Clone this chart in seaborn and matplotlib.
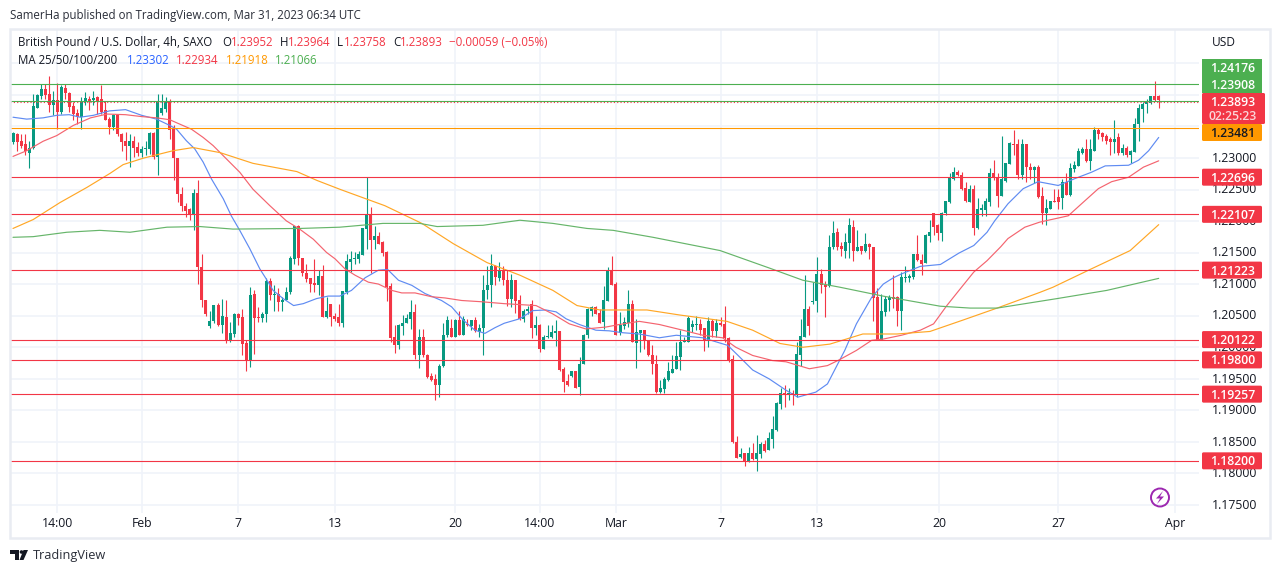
import numpy as np
import pandas as pd
import matplotlib
matplotlib.use("Agg")
import matplotlib.pyplot as plt
from matplotlib.patches import FancyBboxPatch, Rectangle, Circle, Polygon
import seaborn as sns

# OHLC values, in 1/10000 of a dollar: (open, high, low, close)
candles_jan_a = [
(12322,12339,12320,12337),(12336,12337,12309,12323),(12324,12336,12313,12317),(12320,12336,12302,12308),
(12306,12324,12281,12313),(12313,12399,12311,12379),(12377,12399,12377,12397),(12396,12415,12391,12407),
(12407,12415,12391,12397),(12398,12428,12370,12381),(12381,12404,12366,12390),(12390,12416,12344,12371),
(12371,12413,12367,12410),(12409,12415,12391,12401),(12401,12402,12370,12378),(12379,12386,12357,12367),
(12368,12375,12352,12362),(12363,12394,12344,12387),(12387,12402,12381,12392),(12391,12396,12373,12388),
(12389,12403,12381,12392),(12394,12396,12367,12388),(12391,12413,12367,12371),(12373,12388,12357,12358),
(12359,12362,12336,12346),(12346,12367,12341,12365),(12365,12367,12333,12335),(12335,12337,12308,12323),
(12324,12338,12294,12317),(12317,12336,12283,12324),(12324,12333,12299,12314),(12315,12323,12300,12306),
(12306,12317,12299,12312),(12311,12325,12302,12314),(12312,12338,12304,12337),(12337,12338,12296,12299),
(12299,12398,12271,12388),(12368,12398,12365,12376),(12375,12394,12370,12386),(12388,12391,12328,12342),
]
candles_feb_a = [
(12343,12349,12262,12297),(12298,12298,12228,12240),(12241,12252,12214,12221),(12222,12227,12204,12214),
(12216,12218,12200,12209),(12209,12248,12183,12242),(12242,12263,12098,12125),(12125,12146,12061,12072),
(12072,12073,12047,12051),(12032,12056,12029,12040),(12039,12065,12037,12065),(12065,12068,12032,12034),
(12034,12075,12021,12048),(12046,12073,12005,12010),(12009,12038,12007,12020),(12019,12053,12015,12051),
(12051,12053,12033,12045),(12046,12058,11985,12003),(12004,12010,11961,11978),(11978,12093,11966,12081),
(12083,12088,11987,12045),(12046,12061,12038,12044),(12044,12054,12038,12051),(12050,12108,12038,12103),
(12103,12108,12073,12080),(12080,12096,12055,12081),(12083,12092,12055,12069),(12069,12077,12055,12073),
(12072,12093,12072,12086),(12085,12142,12083,12139),(12137,12190,12129,12190),(12190,12191,12128,12139),
(12139,12139,12110,12115),(12116,12130,12102,12106),(12108,12108,12086,12098),(12099,12137,12085,12096),
(12096,12121,12080,12110),(12110,12128,12046,12046),(12046,12077,12044,12056),(12067,12067,12032,12046),
(12047,12052,12039,12042),
]
candles_feb_b = [
(12046,12066,12032,12037),(12037,12087,12030,12087),(12086,12145,12083,12134),(12133,12150,12117,12138),
(12137,12149,12129,12138),(12137,12151,12132,12145),(12144,12187,12144,12186),(12185,12267,12153,12208),
(12208,12220,12116,12167),(12167,12190,12153,12174),(12174,12180,12162,12162),(12165,12166,12142,12147),
(12148,12150,12071,12093),(12095,12099,12006,12012),(12014,12033,11989,12001),(12002,12035,11995,12033),
(12031,12049,12018,12037),(12036,12051,12036,12044),(12043,12072,12027,12054),(12054,12067,11979,11985),
(11985,12027,11965,12015),
]
candles_feb_c = [
(12014,12027,11982,11985),(11986,11987,11950,11951),(11952,11957,11945,11946),(11947,11956,11915,11939),
(11939,11972,11920,11969),(11968,12036,11966,12018),(12017,12048,12014,12041),(12028,12042,12014,12015),
(12015,12043,12014,12041),(12041,12055,12017,12018),(12018,12048,12017,12042),(12035,12042,12031,12033),
(12032,12041,12025,12041),(12041,12046,12022,12024),(12022,12035,12014,12029),(12029,12112,11985,12089),
(12088,12126,12075,12097),(12096,12146,12062,12126),(12126,12128,12096,12109),(12108,12133,12103,12120),
(12120,12126,12096,12104),(12105,12120,12064,12074),(12075,12114,12062,12104),(12104,12105,12052,12071),
(12072,12080,12041,12042),(12042,12059,12038,12056),(12055,12064,12050,12059),(12066,12073,12013,12028),
(12028,12047,12018,12033),(12034,12035,11990,11996),(11996,12017,11995,12015),(12014,12033,12013,12015),
(12014,12033,12013,12022),(12020,12041,12000,12023),(12023,12023,11960,11962),(11963,11966,11927,11943),
(11944,11956,11936,11938),(11952,11961,11951,11961),(11961,11961,11933,11934),(11935,11983,11922,11972),
(11971,12019,11971,12018),(12017,12060,12013,12059),(12056,12064,12048,12061),(12062,12063,12050,12051),
(12052,12059,12036,12037),(12038,12095,12027,12072),(12071,12125,12071,12121),(12121,12142,12096,12096),
]
candles_mar_a = [
(12098,12101,12017,12018),(12020,12054,12017,12033),(12031,12046,12027,12038),(12037,12088,12030,12066),
(12066,12072,12006,12006),(12005,12043,11965,12022),(12021,12026,11990,12026),(12026,12026,11996,12009),
(12009,12009,11984,11985),(11986,12001,11955,11971),(11971,11985,11926,11927),(11927,11946,11926,11933),
(11932,11951,11926,11947),(11946,11975,11945,11961),(11958,11985,11957,11963),(11963,12006,11963,11984),
(11983,12025,11962,12007),(12006,12014,12006,12009),(12007,12048,12006,12044),(12030,12041,12022,12035),
(12033,12047,12025,12035),(12035,12042,12018,12025),(12028,12029,11992,12009),(12008,12046,11998,12039),
(12039,12042,12014,12023),(12023,12043,12014,12036),(12037,12046,12032,12033),(12035,12064,12006,12012),
(12012,12014,11975,11977),
]
candles_mar_b = [
(11980,11985,11846,11848),(11848,11858,11822,11823),(11824,11838,11822,11829),(11830,11830,11810,11818),
(11818,11840,11817,11831),(11831,11847,11819,11821),(11821,11859,11803,11830),(11829,11848,11823,11845),
(11845,11852,11833,11834),(11835,11864,11835,11854),(11853,11889,11838,11868),(11867,11911,11866,11910),
(11908,11934,11901,11925),(11926,11938,11904,11923),(11923,11933,11914,11926),(11925,11931,11906,11922),
(11922,12006,11919,11987),(11986,12043,11969,12016),(12015,12112,12015,12058),(12058,12064,12017,12031),
(12070,12101,12067,12071),(12071,12141,12054,12114),(12114,12122,12084,12097),(12097,12103,12046,12094),
(12095,12175,12094,12157),(12156,12197,12154,12179),
]
candles_mar_c = [
(12180,12187,12152,12157),(12159,12164,12143,12153),(12151,12179,12140,12164),(12163,12202,12140,12191),
(12189,12199,12134,12151),(12151,12183,12151,12157),(12158,12159,12145,12151),(12151,12179,12149,12161),
(12162,12163,12137,12156),(12157,12157,12040,12076),(12077,12091,12010,12010),(12010,12083,12009,12055),
(12054,12079,12048,12074),(12072,12080,12055,12077),(12077,12113,12060,12075),(12077,12079,12031,12056),
(12056,12117,12026,12109),(12107,12126,12101,12109),(12108,12114,12101,12110),(12109,12146,12106,12146),
(12146,12175,12135,12136),(12136,12146,12112,12130),(12131,12177,12131,12175),(12174,12199,12165,12180),
(12211,12211,12175,12189),(12191,12193,12168,12179),(12179,12212,12166,12211),(12210,12229,12208,12229),
(12228,12273,12227,12266),(12264,12283,12263,12276),(12276,12278,12269,12270),(12271,12275,12247,12249),
(12250,12259,12228,12229),(12228,12254,12228,12249),(12249,12254,12176,12187),(12186,12234,12185,12216),
(12215,12225,12206,12218),(12215,12234,12206,12229),(12228,12282,12222,12273),(12273,12295,12262,12266),
]
candles_mar_d = [
(12268,12273,12220,12238),(12238,12333,12238,12264),(12261,12289,12260,12289),(12288,12323,12288,12321),
(12319,12341,12302,12318),(12319,12328,12264,12271),(12271,12328,12264,12319),(12319,12319,12259,12283),
(12284,12290,12265,12278),(12278,12285,12258,12283),(12283,12286,12234,12235),(12237,12252,12193,12210),
(12210,12233,12191,12218),(12216,12230,12216,12229),(12230,12249,12228,12228),(12235,12249,12216,12228),
(12234,12264,12216,12260),(12260,12273,12239,12239),(12239,12290,12238,12281),(12280,12292,12275,12286),
(12285,12313,12285,12308),(12306,12315,12304,12312),(12312,12328,12291,12292),(12292,12327,12279,12311),
(12309,12346,12309,12341),(12341,12345,12327,12336),(12337,12339,12325,12330),(12332,12336,12319,12325),
(12327,12330,12302,12322),(12322,12358,12306,12328),(12330,12337,12302,12305),(12305,12320,12303,12314),
(12314,12316,12299,12302),(12302,12310,12290,12309),(12307,12361,12307,12352),(12352,12383,12325,12376),
(12375,12386,12354,12383),(12383,12391,12369,12386),(12385,12396,12383,12396),(12396,12420,12388,12390),
(12395.2,12396.4,12375.8,12389.3),
]

# Moving averages: candle number, value in 1/10000
ma25_at = [0,3.4,7.5,10.9,14,16.7,20,24,28,32,35.7,39,40.7,43.1,45.2,47.3,49.4,52.3,54.3,56.4,58.9,61.4,63,64.7,67.2,69.8,72.2,75.5,78.4,81.3,84.2,87.6,90.9,93.2,95.9,99.2,102.5,106.6,109.1,112,114.9,117.4,119.9,122.2,126,129.3,132.6,135.1,137.6,140.9,145,148.3,151.7,155.8,160.8,165,171.6,175.7,177.8,180.7,184,188.1,192.3,195.2,199.7,202.6,206.9,209.8,213.6,216.5,219,221,225.7,230.7,235.3,239,242.3,244.2,247.5,251.3,255,260,264.2,268.3,271.7,277.5,280,282.5,285]
ma25_val = [12362,12359,12361,12365,12366,12362,12365,12372,12374,12365,12359,12349,12343,12325,12312,12291,12264,12233,12206,12183,12154,12122,12106,12088,12075,12064,12067,12075,12079,12079,12088,12108,12120,12121,12104,12096,12083,12072,12062,12041,12025,12020,12029,12036,12043,12056,12057,12054,12043,12034,12025,12024,12021,12019,12013,12017,12013,12005,12001,11983,11962,11948,11930,11919,11927,11940,11993,12035,12077,12098,12108,12114,12126,12129,12147,12159,12180,12198,12225,12249,12260,12254,12265,12275,12285,12286,12294,12309,12330]
ma50_at = [0,3.4,7.5,10.9,15,19.3,23.4,28,32,35.7,39,41.5,44.4,47.3,49.8,53.1,56.4,59.7,63.9,68,71.3,74.7,78,80.1,82.6,85.1,88.4,90.9,94.2,96.7,100,104.1,107.5,111.6,116.6,122.2,130.1,134.2,138.4,142.5,147.5,150.8,155.8,160.8,166.6,171.6,176.5,179.8,184,188.9,192.3,198.1,202.6,205.5,209.8,213.6,216.5,221,225.7,229,232.3,235.7,239,242.3,245.7,247.5,251.7,255.4,262.5,265.8,270,273.3,277.5,281.2,285]
ma50_val = [12300,12309,12324,12333,12349,12361,12367,12366,12363,12361,12358,12351,12343,12330,12317,12296,12275,12248,12222,12198,12185,12169,12148,12138,12122,12112,12101,12098,12088,12084,12084,12078,12076,12072,12070,12067,12064,12051,12035,12027,12030,12034,12039,12034,12025,12017,12013,11998,11985,11977,11975,11964,11969,11978,11993,12009,12011,12017,12025,12035,12064,12091,12117,12135,12157,12170,12188,12196,12206,12225,12249,12260,12267,12283,12293]
ma100_at = [0,5,11.7,18.4,24.1,27.4,32.3,39.8,44.8,51.5,59.7,70.6,75.6,81.3,84.3,92.5,101.7,109.5,117.9,126.1,134.3,140.3,146,157.7,165.9,177.6,184,190.8,196.5,203.2,211.4,219.9,228.1,236.3,244.8,255.5,258.7,267.9,277.9,285]
ma100_val = [12186,12200,12227,12251,12273,12287,12297,12309,12314,12306,12289,12276,12262,12248,12241,12222,12194,12162,12132,12112,12088,12064,12057,12057,12049,12039,12025,12004,11998,12003,12019,12019,12023,12041,12060,12085,12093,12121,12151,12192]
ma200_at = [0,5,13.4,21.6,29.1,38.3,46.5,54.7,71.4,81.3,92,101.2,105.5,116.9,126.1,134.3,142.8,149.3,159.2,175.9,188.3,196.5,205.7,216.4,230.6,238.1,244.8,259.7,272.1,285]
ma200_val = [12172,12173,12180,12183,12180,12188,12189,12185,12186,12188,12194,12194,12189,12191,12199,12194,12186,12183,12172,12151,12123,12104,12093,12079,12063,12060,12060,12075,12088,12107]

# Horizontal levels and labels
red_levels = [1.22696, 1.22107, 1.21223, 1.20122, 1.19800, 1.19257, 1.18200]
green_levels = [1.24176, 1.23908]
orange_level = 1.23481
last_price = 1.23893
y_ticks = [1.175,1.18,1.185,1.19,1.195,1.20,1.205,1.21,1.215,1.22,1.225,1.23,1.235,1.24,1.245]
x_tick_pos = [11,32,56,80,110,131,150,176,200,230.4,260,289]
x_tick_lab = ["14:00","Feb","7","13","20","14:00","Mar","7","13","20","27","Apr"]

GREEN, RED = "#089981", "#F23645"
W, H = 1280, 573
FONT = ["Open Sans", "DejaVu Sans"]
SCALE = 6309   # picture pixels per dollar on the price axis
Y175 = 505     # picture row of 1.17500

sns.set_style("white")
plt.rcParams["font.family"] = FONT
fig = plt.figure(figsize=(W/100, H/100), dpi=100, facecolor="white")

L, R, T, B = 10, 1199, 29, 513
ax = fig.add_axes([L/W, 1-B/H, (R-L)/W, (B-T)/H])
ax.set_xlim((L-13)/4.02, (R-13)/4.02)
ax.set_ylim(1.175-(B-Y175)/SCALE, 1.175+(Y175-T)/SCALE)

def calibrated(v):
    # the readings were taken against a slightly different ruler of the price axis
    return 1.175 + 1/SCALE + (np.asarray(v)/10000-1.175)*6320/SCALE*(SCALE/6320)*1.00174

df = pd.DataFrame(candles_jan_a+candles_feb_a+candles_feb_b+candles_feb_c+candles_mar_a+candles_mar_b+candles_mar_c+candles_mar_d,
                  columns=["o","h","l","c"])
df = df.apply(calibrated)
df["i"] = np.arange(len(df))
up = df.c >= df.o
colors = np.where(up, GREEN, RED)

ax.vlines(df.i, df.l, df.h, colors=colors, lw=0.8, zorder=2)
body_low = df[["o","c"]].min(axis=1)
body_h = (df.c-df.o).abs().clip(lower=0.00016)
ax.bar(df.i, body_h, bottom=body_low, width=3/4.02, color=colors, lw=0, zorder=3)

ma_frames = [("MA25", ma25_at, ma25_val, "#5F8BF2"), ("MA50", ma50_at, ma50_val, "#F4646F"),
             ("MA100", ma100_at, ma100_val, "#FFA726"), ("MA200", ma200_at, ma200_val, "#66B56A")]
for name, at, val, col in ma_frames:
    d = pd.DataFrame({"x": at, "y": calibrated(val)})
    sns.lineplot(data=d, x="x", y="y", color=col, lw=0.85, ax=ax, zorder=4, estimator=None, sort=False)

for v in red_levels:
    ax.axhline(v, color=RED, lw=0.8, zorder=5)
for v in green_levels:
    ax.axhline(v, color="#4CAF50", lw=0.8, zorder=5)
ax.axhline(orange_level, color="#FF9800", lw=0.8, zorder=5)
ax.axhline(last_price, color=RED, lw=0.8, ls=(0,(1,2)), zorder=6)

ax.set_xticks(x_tick_pos)
ax.set_xticklabels(x_tick_lab, fontsize=8.8, color="#131722")
ax.set_yticks(y_ticks)
ax.yaxis.tick_right()
ax.set_yticklabels([])
ax.tick_params(length=0, pad=3)
ax.grid(True, color="#F0F3FA", lw=1.2, zorder=0)
ax.set_axisbelow(True)
ax.set_xlabel(""); ax.set_ylabel("")
for s in ax.spines.values():
    s.set_visible(False)
ax.patch.set_alpha(0)

# overlay in picture pixels for the surrounding interface
ov = fig.add_axes([0,0,1,1], zorder=10)
ov.set_xlim(0,W); ov.set_ylim(H,0); ov.axis("off"); ov.patch.set_alpha(0)

def py(p):
    return Y175-(p-1.175)*SCALE

def txt(x,y,s,c="#131722",size=8.3,**k):
    ov.text(x,y,s,color=c,fontsize=size,va="center",**k)

ov.add_patch(Rectangle((10,29),1260,509,fill=False,ec="#E9ECF2",lw=1.8))

txt(10,15.8,"SamerHa published on TradingView.com, Mar 31, 2023 06:34 UTC",c="#2A2E39")
txt(18,42,"British Pound / U.S. Dollar, 4h, SAXO",c="#131722")
for x,s,c in [(222,"O","#131722"),(231,"1.23952",RED),(280,"H","#131722"),(288,"1.23964",RED),(337,"L","#131722"),(344,"1.23758",RED),
              (393,"C","#131722"),(400,"1.23893",RED),(449,"\u22120.00059 (\u22120.05%)",RED)]:
    txt(x,42,s,c=c)
txt(18,60,"MA 25/50/100/200",c="#131722")
for x,s,c in [(127,"1.23302","#2962FF"),(176,"1.22934",RED),(226,"1.21918","#FF9800"),(275,"1.21066","#4CAF50")]:
    txt(x,60,s,c=c)

txt(1212,42,"USD",size=8.6)
for p in y_ticks:
    if p <= 1.23:
        txt(1212,py(p)+0.2,f"{p:.5f}",size=8.8)

TAG_W = dict(weight=600, fontsize=8.8, ha="center", va="center", zorder=4)

def tag(y0,y1,s,col,tc="white",x1=1262):
    ov.add_patch(FancyBboxPatch((1202,y0),x1-1202,y1-y0,boxstyle="round,pad=0,rounding_size=1.5",fc=col,ec="none",zorder=3))
    if s:
        ov.text(1233,(y0+y1)/2+1,s,color=tc,**TAG_W)

for v in red_levels:
    c = py(v)
    tag(c-8.5,c+8.5,f"{v:.5f}",RED)
ov.add_patch(Rectangle((1202,59),60,34,fc="#4CAF50",ec="none",zorder=3))
ov.text(1233,68,"1.24176",color="white",**TAG_W)
ov.text(1233,85.5,"1.23908",color="white",**TAG_W)
tag(124,141,"1.23481","#FF9800",tc="#131722")
tag(93,124,"",RED,x1=1265)
ov.text(1233,102.5,"1.23893",color="white",**TAG_W)
ov.text(1233,117,"02:25:23",color="#FBD5D9",**TAG_W)

# lightning mark
ov.add_patch(Circle((1160,497.5),9,fill=False,ec="#9C27B0",lw=1.4))
ov.add_patch(Polygon([(1163,491),(1156,498.5),(1160,498.5),(1157,504),(1164,496.5),(1160,496.5)],fc="#9C27B0",ec="none"))

# TradingView mark
ov.add_patch(Polygon([(10,550),(19,550),(19,560),(15,560),(15,554),(10,554)],fc="#131722",ec="none"))
ov.add_patch(Circle((21.5,552),1.8,fc="#131722",ec="none"))
ov.add_patch(Polygon([(23.5,550),(28,550),(23.5,560),(19.5,560)],fc="#131722",ec="none"))
txt(33,556,"TradingView",c="#2A2E39",size=9.2,weight="medium")

fig.savefig("out.png", dpi=100)
